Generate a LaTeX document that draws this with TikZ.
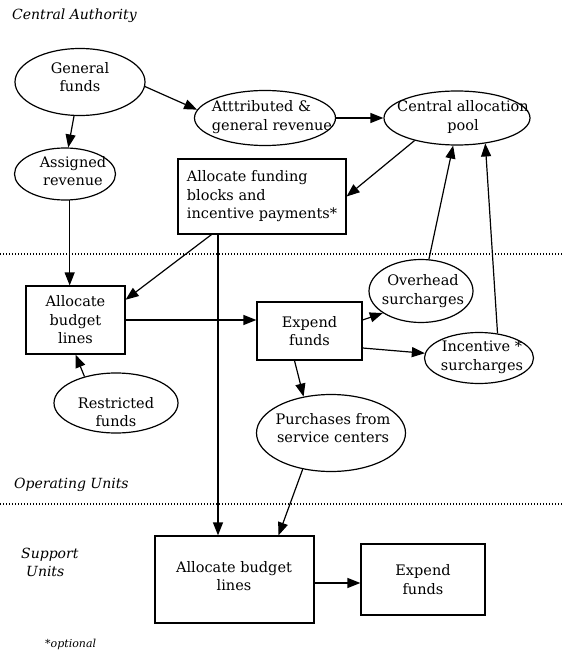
\documentclass[tikz,border=0pt]{standalone}
\usepackage{fontspec}
\setmainfont{DejaVu Serif}
\usetikzlibrary{shapes.geometric,arrows.meta}
\begin{document}
\begin{tikzpicture}[x=1pt,y=-1pt,
  txt/.style={font=\fontsize{14.5}{18.5}\selectfont, inner sep=0pt, align=center},
  ell/.style={draw, ellipse, line width=1.2pt, inner sep=0pt},
  box/.style={draw, rectangle, line width=1.2pt, inner sep=0pt, font=\fontsize{14.5}{18.5}\selectfont, align=center},
  arr/.style={line width=1.2pt, -{Triangle[length=13pt,width=10pt]}},
  lab/.style={font=\itshape\fontsize{14}{18}\selectfont, anchor=west, inner sep=0pt, align=left},
  sep/.style={line width=1.1pt, dash pattern=on 1pt off 2pt}]
\useasboundingbox (0,0) rectangle (563,652);

% separators
\coordinate (s1l) at (0,254);
\coordinate (s1r) at (563,254);
\coordinate (s2l) at (0,504);
\coordinate (s2r) at (563,504);
\draw[sep] (s1l) -- (s1r);
\draw[sep] (s2l) -- (s2r);

% region labels
\node[lab] (lca) at (12,16) {Central Authority};
\node[lab] (lou) at (14,485) {Operating Units};
\node[lab] (lsu) at (21,562) {Support\\\hspace{5pt}Units};
\node[lab, font=\itshape\fontsize{11}{13}\selectfont] (lopt) at (45,644) {*optional};

% ellipses
\node[ell, minimum width=130pt, minimum height=67pt] (gf) at (80,82) {};
\node[txt] (gft) at (80,77) {General\\funds};
\node[ell, minimum width=101pt, minimum height=52pt] (ar) at (65,174) {};
\node[txt] (art) at (73,171) {Assigned\\revenue};
\node[ell, minimum width=141pt, minimum height=55pt] (att) at (265,118) {};
\node[txt, align=left] (attt) at (272,117) {Atttributed \&\\general revenue};
\node[ell, minimum width=146pt, minimum height=54pt] (cap) at (457,118) {};
\node[txt] (capt) at (463,117) {Central allocation\\pool\hspace{30pt}};
\node[ell, minimum width=104pt, minimum height=63pt] (ovh) at (421,291) {};
\node[txt] (ovht) at (423,291) {Overhead\\surcharges};
\node[ell, minimum width=109pt, minimum height=51pt] (ics) at (479,358) {};
\node[txt] (icst) at (482,357) {Incentive *\\surcharges};
\node[ell, minimum width=149pt, minimum height=77pt] (pur) at (331,433) {};
\node[txt] (purt) at (333,428) {Purchases from\\service centers};
\node[ell, minimum width=124pt, minimum height=60pt] (res) at (116,403) {};
\node[txt] (rest) at (116,412) {Restricted\\funds};

% boxes
\node[box, minimum width=168pt, minimum height=75pt, align=left] (afb) at (262,196.5) {Allocate funding\\blocks and\\incentive payments*};
\node[box, minimum width=99pt, minimum height=68pt] (aob) at (75.5,320) {Allocate\\budget\\lines};
\node[box, minimum width=105pt, minimum height=58pt] (oef) at (309.5,331) {Expend\\funds};
\node[box, minimum width=159pt, minimum height=87pt] (sab) at (234.5,579.5) {};
\node[txt] (sabt) at (234,576) {Allocate budget\\lines};
\node[box, minimum width=124pt, minimum height=71pt] (sef) at (423,579.5) {Expend\\funds};

% connectors
\draw[arr] (gf.-4) -- (att.173);
\draw[arr] (gf.-100) -- (ar.83);
\draw[arr] (att.east) -- (cap.west);
\draw[arr] (cap.-152) -- (afb.east);
\draw[arr] (ar.-80) -- (ar.-80 |- aob.north);
\draw[arr] (afb.-143) -- (aob.22);
\draw[arr] ([xshift=-44pt]afb.south) -- ([xshift=-44pt]afb.south |- sab.north);
\draw[arr] (aob.east) -- (aob.east -| oef.west);
\draw[arr] ([yshift=11pt]oef.east) -- (ovh.-150);
\draw[arr] ([yshift=-17pt]oef.east) -- (ics.175);
\draw[arr] ([xshift=-15pt]oef.south) -- (pur.127);
\draw[arr] (ovh.76) -- (cap.-98);
\draw[arr] (ics.53) -- (cap.-42);
\draw[arr] (res.140) -- (aob.south);
\draw[arr] (pur.-128) -- ([xshift=44pt]sab.north);
\draw[arr] ([yshift=-3.5pt]sab.east) -- ([yshift=-3.5pt]sab.east -| sef.west);
\end{tikzpicture}
\end{document}
